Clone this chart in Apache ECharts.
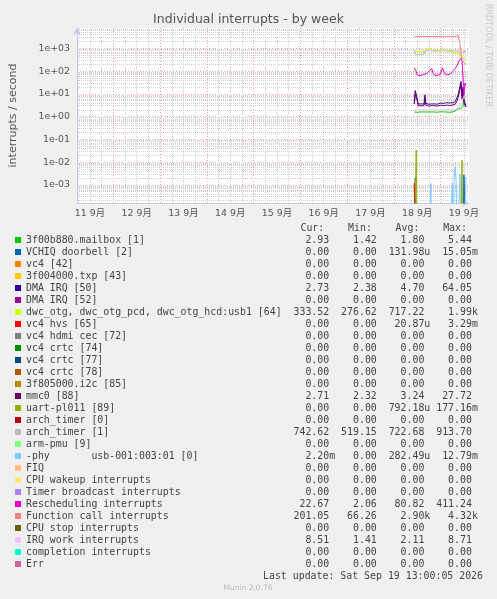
<!DOCTYPE html>
<html>
<head>
<meta charset="utf-8">
<title>Individual interrupts - by week</title>
<script src="https://cdn.jsdelivr.net/npm/echarts@6/dist/echarts.min.js"></script>
<style>
  html, body { margin: 0; padding: 0; background: #F0F0F0; }
  #chart { width: 497px; height: 599px; }
</style>
</head>
<body>
<div id="chart"></div>
<script>
// legend rows, in munin order
const seriesNames = [
  '3f00b880.mailbox [1]', 'VCHIQ doorbell [2]', 'vc4 [42]', '3f004000.txp [43]',
  'DMA IRQ [50]', 'DMA IRQ [52]', 'dwc_otg, dwc_otg_pcd, dwc_otg_hcd:usb1 [64]',
  'vc4 hvs [65]', 'vc4 hdmi cec [72]', 'vc4 crtc [74]', 'vc4 crtc [77]', 'vc4 crtc [78]',
  '3f805000.i2c [85]', 'mmc0 [88]', 'uart-pl011 [89]', 'arch_timer [0]', 'arch_timer [1]',
  'arm-pmu [9]', '-phy       usb-001:003:01 [0]', 'FIQ', 'CPU wakeup interrupts',
  'Timer broadcast interrupts', 'Rescheduling interrupts', 'Function call interrupts',
  'CPU stop interrupts', 'IRQ work interrupts', 'completion interrupts', 'Err'
]
const seriesColors = [
  '#00CC00', '#0066B3', '#FF8000', '#FFCC00', '#330099', '#990099', '#CCFF00',
  '#FF0000', '#808080', '#008F00', '#00487D', '#B35A00', '#B38F00', '#6B006B',
  '#8FB300', '#B30000', '#BEBEBE', '#80FF80', '#80C9FF', '#FFC080', '#FFE680',
  '#AA80FF', '#EE00CC', '#FF8080', '#666600', '#FFBFFF', '#00FFCC', '#CC6699'
]
const curValues = ['2.93', '0.00', '0.00', '0.00', '2.73', '0.00', '333.52', '0.00', '0.00', '0.00',
  '0.00', '0.00', '0.00', '2.71', '0.00', '0.00', '742.62', '0.00', '2.20m', '0.00', '0.00', '0.00',
  '22.67', '201.05', '0.00', '8.51', '0.00', '0.00']
const minValues = ['1.42', '0.00', '0.00', '0.00', '2.38', '0.00', '276.62', '0.00', '0.00', '0.00',
  '0.00', '0.00', '0.00', '2.32', '0.00', '0.00', '519.15', '0.00', '0.00', '0.00', '0.00', '0.00',
  '2.06', '66.26', '0.00', '1.41', '0.00', '0.00']
const avgValues = ['1.80', '131.98u', '0.00', '0.00', '4.70', '0.00', '717.22', '20.87u', '0.00', '0.00',
  '0.00', '0.00', '0.00', '3.24', '792.18u', '0.00', '722.68', '0.00', '282.49u', '0.00', '0.00', '0.00',
  '80.82', '2.90k', '0.00', '2.11', '0.00', '0.00']
const maxValues = ['5.44', '15.05m', '0.00', '0.00', '64.05', '0.00', '1.99k', '3.29m', '0.00', '0.00',
  '0.00', '0.00', '0.00', '27.72', '177.16m', '0.00', '913.70', '0.00', '12.79m', '0.00', '0.00', '0.00',
  '411.24', '4.32k', '0.00', '8.71', '0.00', '0.00']

// samples every 30 min, first one at Sep 18 10:30 (hours counted from Sep 11 00:00)
const sampleStartHour = 178.5
const sampleStepHours = 0.5

const mailboxRate = [
  1.60, 1.65, 1.60, 1.55, 1.55, 1.60, 1.60, 1.65, 1.60, 1.60,
  1.95, 1.70, 1.60, 1.60, 1.75, 1.60, 1.55, 1.60, 1.60, 1.55,
  1.55, 1.60, 1.60, 1.55, 1.55, 1.60, 1.60, 1.65, 1.70, 1.60,
  1.60, 1.55, 1.55, 1.60, 1.60, 1.55, 1.55, 1.60, 1.60, 1.60,
  1.65, 1.70, 1.80, 2.00, 2.10, 2.20, 2.15, 2.30, 2.20, 2.60,
  2.80, 5.00, 3.00, 2.93]
const vchiqRate = [
  0, 0.002, 0, 0, 0, 0, 0, 0, 0, 0,
  0, 0, 0, 0, 0, 0, 0, 0, 0, 0,
  0, 0, 0, 0, 0, 0, 0, 0, 0, 0,
  0, 0, 0, 0, 0, 0, 0, 0, 0, 0,
  0, 0, 0, 0, 0, 0, 0, 0, 0, 0,
  0, 0.0027, 0.0027, 0]
const dma50Rate = [
  4.0, 14, 15, 6.0, 3.6, 3.5, 3.5, 3.6, 3.5, 3.4,
  3.6, 9.0, 3.8, 3.6, 3.6, 3.5, 3.7, 3.8, 3.6, 3.5,
  3.5, 3.6, 3.7, 3.6, 3.5, 3.6, 3.8, 4.0, 4.2, 3.9,
  3.8, 4.0, 4.3, 4.1, 3.9, 3.8, 4.0, 4.2, 4.4, 4.0,
  3.9, 4.1, 4.5, 5.0, 7.0, 9.0, 14, 22, 35, 8.0,
  20, 6.0, 5.0, 2.73]
const dwcRate = [
  780, 760, 750, 740, 730, 720, 700, 720, 730, 710,
  720, 740, 800, 1000, 1150, 1100, 1050, 1200, 800, 760,
  740, 730, 720, 730, 750, 760, 770, 800, 1100, 1250,
  1150, 900, 780, 760, 740, 730, 720, 740, 750, 730,
  720, 700, 650, 600, 540, 520, 600, 480, 450, 420,
  400, 380, 290, 333.52]
const hvsRate = [
  0.0012, 0, 0, 0, 0, 0, 0, 0, 0, 0,
  0, 0, 0, 0, 0, 0, 0, 0, 0, 0,
  0, 0, 0, 0, 0, 0, 0, 0, 0, 0,
  0, 0, 0, 0, 0, 0, 0, 0, 0, 0,
  0, 0, 0, 0, 0, 0, 0, 0, 0, 0,
  0, 0, 0, 0]
const mmcRate = [
  3.5, 10, 12, 5.0, 3.0, 2.9, 2.9, 3.0, 2.9, 2.8,
  3.0, 6.0, 3.2, 3.0, 3.0, 2.9, 3.0, 3.1, 3.0, 2.9,
  2.9, 3.0, 3.1, 3.0, 2.9, 3.0, 3.1, 3.2, 3.3, 3.1,
  3.0, 3.2, 3.4, 3.2, 3.1, 3.0, 3.1, 3.3, 3.4, 3.2,
  3.1, 3.2, 3.5, 4.0, 5.0, 7.0, 10, 16, 27, 6.0,
  10, 4.0, 3.5, 2.71]
const uartRate = [
  0, 0, 0.034, 0, 0, 0, 0, 0, 0, 0,
  0, 0, 0, 0, 0, 0, 0, 0, 0, 0,
  0, 0, 0, 0, 0, 0, 0, 0, 0, 0,
  0, 0, 0, 0, 0, 0, 0, 0, 0, 0,
  0, 0, 0, 0, 0, 0, 0, 0, 0, 0.0124,
  0, 0, 0, 0]
const timer1Rate = [
  780, 530, 525, 520, 520, 525, 530, 525, 520, 530,
  560, 780, 790, 800, 790, 790, 800, 790, 790, 800,
  800, 790, 790, 800, 800, 790, 790, 800, 800, 790,
  790, 800, 800, 790, 790, 800, 800, 790, 790, 800,
  790, 790, 780, 780, 770, 760, 700, 690, 680, 690,
  700, 720, 730, 742.62]
const phyRate = [
  0, 0, 0, 0, 0, 0, 0, 0, 0, 0,
  0, 0, 0, 0, 0, 0, 0, 0.00115, 0, 0,
  0, 0, 0, 0, 0, 0, 0, 0, 0, 0,
  0, 0, 0, 0, 0, 0, 0, 0, 0, 0.0012,
  0, 0.002, 0.0063, 0.0015, 0, 0, 0, 0.003, 0, 0,
  0, 0, 0, 0.0022]
const reschedRate = [
  140, 160, 95, 68, 65, 62, 63, 66, 64, 70,
  78, 80, 75, 72, 90, 98, 95, 100, 130, 85,
  70, 66, 64, 65, 66, 65, 68, 72, 110, 140,
  120, 80, 72, 70, 68, 66, 70, 75, 80, 95,
  92, 110, 130, 150, 180, 220, 280, 340, 380, 300,
  60, 8, 30, 22.67]
const funcCallRate = [
  3300, 3300, 3350, 3300, 3280, 3300, 3320, 3300, 3300, 3280,
  3300, 3300, 3320, 3350, 3400, 3350, 3300, 3300, 3320, 3300,
  3300, 3320, 3350, 3380, 3350, 3300, 3300, 3320, 3350, 3400,
  3380, 3350, 3320, 3300, 3300, 3280, 3300, 3320, 3300, 3300,
  3300, 3320, 3350, 3500, 3200, 3800, 3600, 1500, 600, 320,
  260, 230, 210, 201.05]
const irqWorkRate = [
  2.0, 2.1, 2.0, 1.9, 1.9, 2.0, 2.0, 1.9, 2.0, 2.0,
  2.1, 2.0, 1.9, 2.0, 2.0, 1.9, 2.0, 2.0, 2.1, 2.0,
  1.9, 2.0, 2.0, 1.9, 2.0, 2.0, 2.1, 2.0, 2.0, 1.9,
  2.0, 2.0, 1.9, 2.0, 2.0, 2.1, 2.0, 2.0, 1.9, 2.0,
  2.0, 2.1, 2.0, 2.2, 2.3, 2.5, 2.4, 2.6, 3.0, 4.0,
  6.0, 8.0, 8.6, 8.51]

// series with nothing but zeros have no line
const ratesBySeries = [
  mailboxRate, vchiqRate, null, null, dma50Rate, null, dwcRate, hvsRate, null, null,
  null, null, null, mmcRate, uartRate, null, timer1Rate, null, phyRate, null,
  null, null, reschedRate, funcCallRate, null, irqWorkRate, null, null
]

const dayLabels = ['11 9月', '12 9月', '13 9月', '14 9月', '15 9月', '16 9月', '17 9月', '18 9月', '19 9月']
const dayLabelHours = [12, 36, 60, 84, 108, 132, 156, 180, 204]
const dayLineHours = [24, 48, 72, 96, 120, 144, 168, 192]

const yTickValues = [1e-3, 1e-2, 1e-1, 1, 10, 100, 1000]
const yTickLabels = ['1e-03', '1e-02', '1e-01', '1e+00', '1e+01', '1e+02', '1e+03']

const X_MIN = 5.35
const X_MAX = 206.6
const Y_MIN = 1.58e-4
const Y_MAX = 7.9e3
// rrdtool draws a 0 below the bottom of a log graph
const BELOW_AXIS = 1e-6

const quarterDayHours = []
for (let h = 6; h < X_MAX; h += 6) {
  if (h % 24 !== 0) quarterDayHours.push(h)
}
const yMinorValues = []
for (let e = -4; e <= 3; e++) {
  for (let m = 2; m <= 9; m++) {
    const v = m * Math.pow(10, e)
    if (v > Y_MIN && v < Y_MAX) yMinorValues.push(v)
  }
}

const FONT = 'DejaVu Sans, Noto Sans CJK JP, sans-serif'
const MONO = 'DejaVu Sans Mono, monospace'
const AXIS_COLOR = '#C8C8F0'

function statField (s, width) {
  const last = s.charAt(s.length - 1)
  const hasUnit = /[a-z]/i.test(last)
  const num = hasUnit ? s.slice(0, -1) : s
  return num.padStart(width) + (hasUnit ? last : ' ')
}

function legendLine (name) {
  const k = seriesNames.indexOf(name)
  return name.padEnd(43) + statField(curValues[k], 8) + statField(minValues[k], 7) +
    statField(avgValues[k], 7) + statField(maxValues[k], 7)
}

const chart = echarts.init(document.getElementById('chart'), null, { renderer: 'canvas' })

const option = {
  backgroundColor: '#F0F0F0',
  animation: false,
  title: {
    text: 'Individual interrupts - by week',
    left: 'center',
    top: 8,
    textStyle: { fontFamily: FONT, fontSize: 12.5, fontWeight: 'normal', color: '#555' }
  },
  grid: {
    left: 67,
    top: 28,
    width: 402,
    height: 175,
    show: true,
    backgroundColor: '#FFFFFF',
    borderWidth: 0
  },
  legend: {
    orient: 'vertical',
    left: 15,
    top: 234,
    padding: 0,
    itemWidth: 6,
    itemHeight: 6,
    itemGap: 0,
    icon: 'rect',
    selectedMode: false,
    data: seriesNames,
    formatter: legendLine,
    textStyle: { fontFamily: MONO, fontSize: 9.9, lineHeight: 12, color: '#444' }
  },
  xAxis: [
    {
      type: 'value',
      min: X_MIN,
      max: X_MAX,
      position: 'bottom',
      axisLine: {
        show: true,
        onZero: false,
        symbol: ['none', 'arrow'],
        symbolSize: [6, 7],
        lineStyle: { color: AXIS_COLOR, width: 1 }
      },
      axisTick: { show: false, customValues: dayLineHours },
      axisLabel: {
        customValues: dayLabelHours,
        formatter: v => dayLabels[dayLabelHours.indexOf(v)] || '',
        fontFamily: FONT,
        fontSize: 9.4,
        color: '#555',
        margin: 6
      },
      splitLine: { show: true, lineStyle: { color: '#F0A0A0', width: 1, type: [1, 2] } }
    },
    {
      type: 'value',
      min: X_MIN,
      max: X_MAX,
      position: 'top',
      axisLine: { show: false },
      axisTick: { show: false, customValues: quarterDayHours },
      axisLabel: { show: false },
      splitLine: { show: true, lineStyle: { color: '#D0D0D0', width: 1, type: [1, 1] } }
    }
  ],
  yAxis: [
    {
      type: 'log',
      logBase: 10,
      min: Y_MIN,
      max: Y_MAX,
      name: 'interrupts / second',
      nameLocation: 'middle',
      nameRotate: 90,
      nameGap: 58,
      nameTextStyle: { fontFamily: FONT, fontSize: 11, color: '#555' },
      axisLine: {
        show: true,
        onZero: false,
        symbol: ['none', 'arrow'],
        symbolSize: [6, 7],
        lineStyle: { color: AXIS_COLOR, width: 1 }
      },
      axisTick: { show: false, customValues: yTickValues },
      axisLabel: {
        customValues: yTickValues,
        formatter: v => {
          const e = Math.round(Math.log10(v))
          const k = yTickValues.findIndex(t => Math.round(Math.log10(t)) === e)
          return k >= 0 ? yTickLabels[k] : ''
        },
        fontFamily: FONT,
        fontSize: 9.4,
        color: '#555',
        margin: 7
      },
      splitLine: { show: true, lineStyle: { color: '#F0A0A0', width: 1, type: [1, 2] } }
    },
    {
      type: 'log',
      logBase: 10,
      min: Y_MIN,
      max: Y_MAX,
      position: 'right',
      axisLine: { show: false },
      axisTick: { show: false, customValues: yMinorValues },
      axisLabel: { show: false },
      splitLine: { show: true, lineStyle: { color: '#D0D0D0', width: 1, type: [1, 1] } }
    }
  ],
  graphic: [
    {
      type: 'text',
      x: 27,
      y: 228,
      silent: true,
      style: {
        text: ' '.repeat(46) + 'Cur:    Min:    Avg:    Max:',
        font: '9.9px ' + MONO,
        fill: '#444',
        verticalAlign: 'middle'
      }
    },
    {
      type: 'text',
      x: 483,
      y: 576,
      silent: true,
      style: {
        text: 'Last update: Sat Sep 19 13:00:05 2026',
        font: '9.9px ' + MONO,
        fill: '#444',
        align: 'right',
        verticalAlign: 'middle'
      }
    },
    {
      type: 'text',
      x: 248,
      y: 588,
      silent: true,
      style: {
        text: 'Munin 2.0.76',
        font: '7.5px ' + FONT,
        fill: '#BBBBBB',
        align: 'center',
        verticalAlign: 'middle'
      }
    },
    {
      type: 'text',
      x: 488,
      y: 4,
      rotation: -Math.PI / 2,
      silent: true,
      style: {
        text: 'RRDTOOL / TOBI OETIKER',
        font: '8px ' + FONT,
        fill: '#C8C8C8',
        align: 'left',
        verticalAlign: 'middle'
      }
    }
  ],
  series: seriesNames.map((name, k) => ({
    name: name,
    type: 'line',
    xAxisIndex: 0,
    yAxisIndex: 0,
    symbol: 'none',
    showSymbol: false,
    silent: true,
    clip: true,
    color: seriesColors[k],
    lineStyle: { width: 1, color: seriesColors[k] },
    itemStyle: { color: seriesColors[k] },
    emphasis: { disabled: true },
    data: (ratesBySeries[k] || []).map((v, i) => [
      sampleStartHour + i * sampleStepHours,
      v === 0 ? BELOW_AXIS : v
    ])
  }))
}

chart.setOption(option)
</script>
</body>
</html>
